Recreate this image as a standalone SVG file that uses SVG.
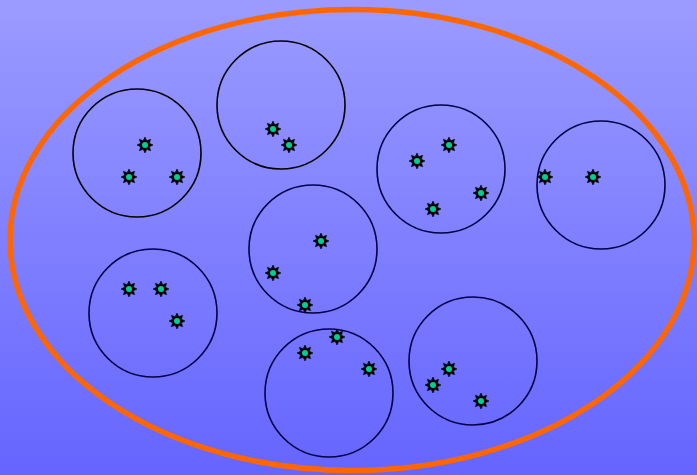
<svg xmlns="http://www.w3.org/2000/svg" xmlns:xlink="http://www.w3.org/1999/xlink" width="697" height="475" viewBox="0 0 697 475">
<defs>
<linearGradient id="bg" x1="0" y1="0" x2="0" y2="1">
<stop offset="0" stop-color="#9b9bff"/>
<stop offset="1" stop-color="#6565ff"/>
</linearGradient>
<g id="star">
<polygon points="0,-8 1.8,-4.3 5.66,-5.66 4.3,-1.8 8,0 4.3,1.8 5.66,5.66 1.8,4.3 0,8 -1.8,4.3 -5.66,5.66 -4.3,1.8 -8,0 -4.3,-1.8 -5.66,-5.66 -1.8,-4.3" fill="#000" stroke="#000" stroke-width="0.6"/>
<circle r="3" fill="#00cc99"/>
</g>
</defs>
<style>
.c{fill:none;stroke:#000044;stroke-width:1.6}
.c1{fill:none;stroke:#000000;stroke-width:1.6}
</style>
<rect width="697" height="475" fill="url(#bg)"/>
<ellipse id="outer" cx="352" cy="240" rx="342" ry="230.5" fill="none" stroke="#ff6600" stroke-width="5.5"/>
<g id="cluster1"><circle class="c1" cx="137" cy="153" r="64"/><use xlink:href="#star" x="145" y="145"/><use xlink:href="#star" x="129" y="177"/><use xlink:href="#star" x="177" y="177"/></g>
<g id="cluster2"><circle class="c1" cx="281" cy="105" r="64"/><use xlink:href="#star" x="273" y="129"/><use xlink:href="#star" x="289" y="145"/></g>
<g id="cluster3"><circle class="c" cx="441" cy="169" r="64"/><use xlink:href="#star" x="449" y="145"/><use xlink:href="#star" x="417" y="161"/><use xlink:href="#star" x="481" y="193"/><use xlink:href="#star" x="433" y="209"/></g>
<g id="cluster4"><circle class="c" cx="601" cy="185" r="64"/><use xlink:href="#star" x="545" y="177"/><use xlink:href="#star" x="593" y="177"/></g>
<g id="cluster5"><circle class="c" cx="313" cy="249" r="64"/><use xlink:href="#star" x="321" y="241"/><use xlink:href="#star" x="273" y="273"/><use xlink:href="#star" x="305" y="305"/></g>
<g id="cluster6"><circle class="c" cx="153" cy="313" r="64"/><use xlink:href="#star" x="129" y="289"/><use xlink:href="#star" x="161" y="289"/><use xlink:href="#star" x="177" y="321"/></g>
<g id="cluster7"><circle class="c" cx="329" cy="393" r="64"/><use xlink:href="#star" x="305" y="353"/><use xlink:href="#star" x="337" y="337"/><use xlink:href="#star" x="369" y="369"/></g>
<g id="cluster8"><circle class="c" cx="473" cy="361" r="64"/><use xlink:href="#star" x="449" y="369"/><use xlink:href="#star" x="433" y="385"/><use xlink:href="#star" x="481" y="401"/></g>
<g id="connectors"/>
</svg>
